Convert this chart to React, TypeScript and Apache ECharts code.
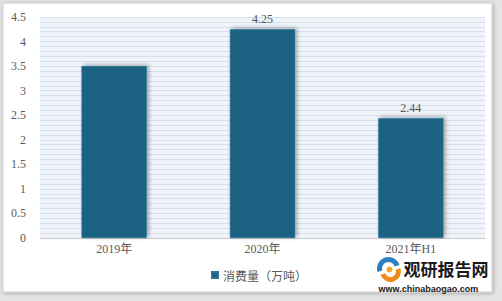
import React, { useEffect, useRef } from "react";
import * as echarts from "echarts";

const categories = ["2019年", "2020年", "2021年H1"];
const consumption = [3.5, 4.25, 2.44];
const showValueLabel = [false, true, true];
const seriesName = "消费量（万吨）";
const yTicks = [0, 0.5, 1, 1.5, 2, 2.5, 3, 3.5, 4, 4.5];

const serif = "'Liberation Serif', 'DejaVu Serif', 'Noto Sans CJK SC', serif";
const cjk = "'Noto Sans CJK SC', sans-serif";

export default function App() {
  const ref = useRef<HTMLDivElement>(null);
  useEffect(() => {
    document.body.style.margin = "0";
    if (!ref.current) return;
    const chart = echarts.init(ref.current, undefined, { renderer: "svg" });
    chart.setOption({
      animation: false,
      backgroundColor: "#e4e4e4",
      graphic: [
        {
          type: "rect",
          z: -10,
          shape: { x: 3, y: 3, width: 489, height: 289 },
          style: {
            fill: "#ffffff",
            stroke: "#d0d0d0",
            lineWidth: 1,
            shadowBlur: 4,
            shadowColor: "rgba(0,0,0,0.25)",
            shadowOffsetX: 1,
            shadowOffsetY: 1,
          },
          silent: true,
        },
        {
          type: "group",
          left: 377,
          top: 257,
          z: 100,
          children: [
            {
              type: "arc",
              shape: { cx: 13, cy: 10, r: 9, startAngle: Math.PI * 0.9, endAngle: Math.PI * 1.9 },
              style: { stroke: "#2f7fbf", lineWidth: 5, fill: "none" },
            },
            {
              type: "arc",
              shape: { cx: 15, cy: 13, r: 8, startAngle: Math.PI * -0.1, endAngle: Math.PI * 0.9 },
              style: { stroke: "#f08a1c", lineWidth: 5, fill: "none" },
            },
            {
              type: "circle",
              shape: { cx: 14, cy: 11, r: 3 },
              style: { fill: "#f5a623" },
            },
            {
              type: "text",
              x: 28,
              y: 1,
              style: {
                text: "观研报告网",
                font: "bold 17px 'Noto Sans CJK SC', sans-serif",
                fill: "#1a1a1a",
              },
            },
            {
              type: "text",
              x: 3,
              y: 26,
              style: {
                text: "www.chinabaogao.com",
                font: "bold 9px 'Liberation Sans', sans-serif",
                fill: "#1a1a1a",
              },
            },
          ],
        },
      ],
      grid: {
        left: 40,
        right: 17,
        top: 17,
        bottom: 63,
        show: true,
        backgroundColor: "#eef4f9",
        borderWidth: 0,
      },
      legend: {
        show: true,
        left: 206,
        top: 264,
        icon: "rect",
        itemWidth: 6,
        itemHeight: 6,
        itemGap: 4,
        textStyle: { color: "#595959", fontSize: 12, fontFamily: cjk },
        data: [seriesName],
      },
      xAxis: {
        type: "category",
        data: categories,
        axisLine: { show: true, lineStyle: { color: "#c8c8c8", width: 1 } },
        axisTick: { show: false },
        axisLabel: { color: "#595959", fontSize: 12, fontFamily: serif, margin: 5 },
      },
      yAxis: {
        type: "value",
        min: yTicks[0],
        max: yTicks[yTicks.length - 1],
        interval: 0.5,
        axisLine: { show: false },
        axisTick: { show: false },
        axisLabel: { color: "#595959", fontSize: 12, fontFamily: serif, margin: 14 },
        splitLine: { show: true, lineStyle: { color: "#d9e0e7", width: 1.2 } },
        minorTick: { show: false, splitNumber: 5 },
        minorSplitLine: { show: true, lineStyle: { color: "#d9e0e7", width: 1.2 } },
      },
      series: [
        {
          name: seriesName,
          type: "bar",
          barWidth: "44%",
          data: consumption.map((v, i) => ({
            value: v,
            label: { show: showValueLabel[i] },
          })),
          itemStyle: {
            color: "#1b6283",
            borderColor: "#2a7396",
            borderWidth: 0.5,
            shadowColor: "rgba(0,0,0,0.35)",
            shadowBlur: 4,
            shadowOffsetX: 2,
            shadowOffsetY: -1,
          },
          label: {
            position: "top",
            distance: 4,
            color: "#595959",
            fontSize: 12,
            fontFamily: serif,
          },
        },
      ],
    });
    return () => chart.dispose();
  }, []);
  return <div ref={ref} style={{ width: 502, height: 301 }} />;
}
